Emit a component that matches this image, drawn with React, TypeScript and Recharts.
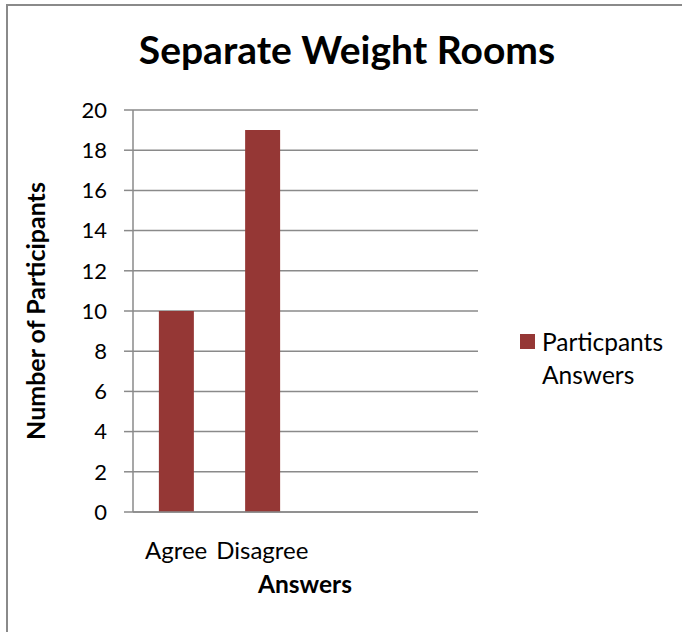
import React from 'react';
import { BarChart, Bar, XAxis, YAxis, CartesianGrid, Legend, Customized } from 'recharts';

const categories = ['Agree', 'Disagree', ' ', '  '];
const answers: (number | null)[] = [10, 19, null, null];
const yTicks = [0, 2, 4, 6, 8, 10, 12, 14, 16, 18, 20];
const chartTitle = 'Separate Weight Rooms';
const seriesName = 'Particpants Answers';
const yTitle = 'Number of Participants';
const xTitle = 'Answers';

const data = categories.map((c, i) => ({ category: c, value: answers[i] }));

const FONT = 'Lato, "Open Sans", sans-serif';
const BAR = '#953735';
const GRID = '#8a8a8a';

const LegendContent = () => (
  <div style={{ display: 'flex', alignItems: 'flex-start', fontFamily: FONT, fontSize: 24.5, color: '#000', lineHeight: '33px' }}>
    <div style={{ width: 15, height: 15, background: BAR, marginTop: 9, marginRight: 7, flex: 'none' }} />
    <div style={{ width: 140 }}>{seriesName}</div>
  </div>
);

const Titles = () => (
  <g style={{ fontFamily: FONT }}>
    <text x={347} y={64} textAnchor="middle" fontSize={39} fontWeight="bold" fill="#000">{chartTitle}</text>
    <text transform="rotate(-90)" x={-311} y={45} textAnchor="middle" fontSize={25} fontWeight="bold" fill="#000">{yTitle}</text>
    <text x={305} y={593} textAnchor="middle" fontSize={24.5} fontWeight="bold" fill="#000">{xTitle}</text>
  </g>
);

export default function App() {
  return (
    <div style={{ position: 'absolute', left: 0, top: 0, width: 682, height: 632, background: '#fff' }}>
      <div style={{ position: 'absolute', left: 6, top: 4, width: 676, height: 628, borderLeft: `2px solid ${GRID}`, borderTop: `2px solid ${GRID}` }} />
      <BarChart
        width={682}
        height={632}
        data={data}
        margin={{ top: 110, right: 204, bottom: 90, left: 0 }}
        barCategoryGap="30%"
        style={{ position: 'absolute', left: 0, top: 0 }}
      >
        <CartesianGrid vertical={false} stroke={GRID} strokeWidth={1.5} />
        <XAxis
          dataKey="category"
          height={30}
          tickLine={false}
          axisLine={{ stroke: GRID, strokeWidth: 1.5 }}
          tick={{ fill: '#000', fontSize: 24, fontFamily: FONT }}
          tickMargin={24}
          interval={0}
        />
        <YAxis
          width={133}
          domain={[0, 20]}
          ticks={yTicks}
          interval={0}
          tickSize={9}
          tickMargin={17}
          tickLine={{ stroke: GRID, strokeWidth: 1.5 }}
          axisLine={{ stroke: GRID, strokeWidth: 1.5 }}
          tick={{ fill: '#000', fontSize: 22, fontFamily: FONT }}
        />
        <Legend
          layout="horizontal"
          align="center"
          verticalAlign="middle"
          content={LegendContent}
          wrapperStyle={{ left: 520, top: 325, width: 162 }}
        />
        <Bar dataKey="value" name={seriesName} fill={BAR} isAnimationActive={false} />
        <Customized component={Titles} />
      </BarChart>
    </div>
  );
}
